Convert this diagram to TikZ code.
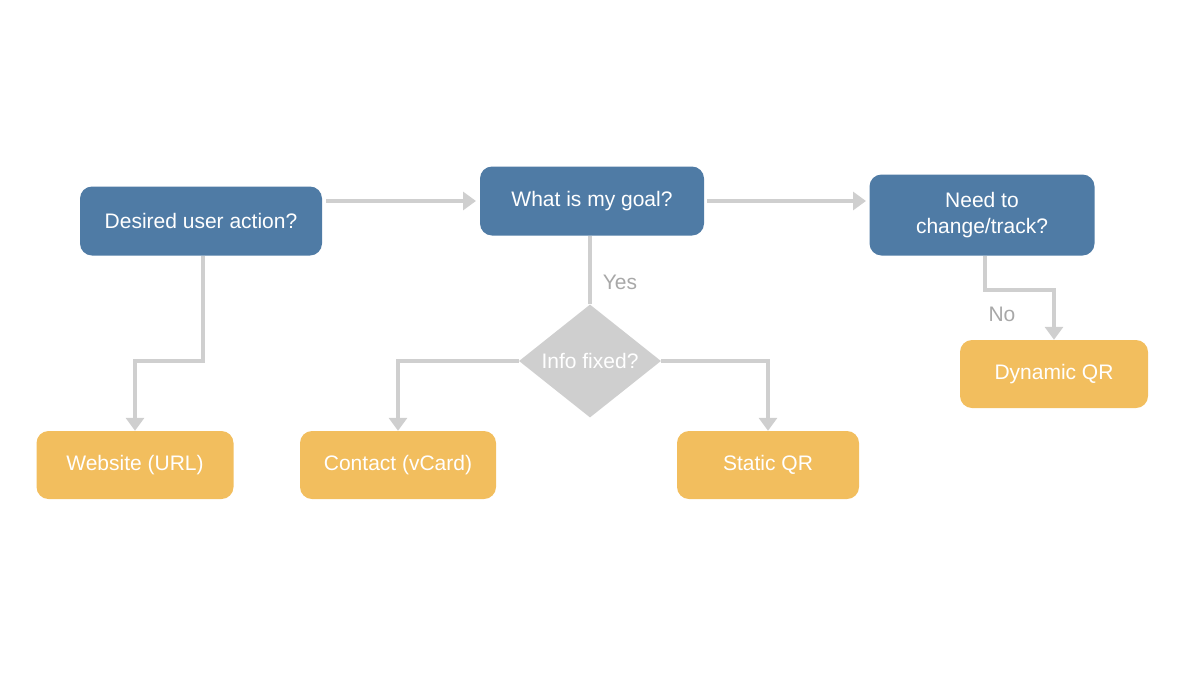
\documentclass[tikz,border=0pt]{standalone}
\usepackage{fontspec}
\setmainfont{Liberation Sans}
\usetikzlibrary{shapes.geometric,arrows.meta}
\definecolor{bluebox}{HTML}{4F7BA5}
\definecolor{orbox}{HTML}{F2BE5E}
\definecolor{conn}{HTML}{CFCFCF}
\definecolor{lab}{HTML}{A8A8A8}
\begin{document}
\begin{tikzpicture}[x=1pt,y=-1pt,
  q/.style={rounded corners=12pt,fill=bluebox,text=white,align=center,font=\fontsize{21}{26}\selectfont,inner sep=0pt},
  a/.style={rounded corners=12pt,fill=orbox,text=white,align=center,font=\fontsize{21}{26}\selectfont,inner sep=0pt},
  c/.style={draw=conn,line width=4pt,-{Triangle[length=13pt,width=18pt]}},
  cl/.style={text=lab,font=\fontsize{21}{26}\selectfont}]
\useasboundingbox (0,0) rectangle (1200,686);
\node[q,minimum width=242pt,minimum height=69pt] (desired) at (201,221) {Desired user action?};
\node[q,minimum width=224pt,minimum height=69pt] (goal) at (592,201) {What is my goal?};
\node[q,minimum width=225pt,minimum height=81pt] (need) at (982,215) {Need to\\change/track?};
\node[diamond,fill=conn,minimum width=142pt,minimum height=113pt,inner sep=0pt,text=white,font=\fontsize{21}{26}\selectfont] (info) at (590,361) {Info fixed?};
\node[a,minimum width=197pt,minimum height=68pt] (web) at (135,465) {Website (URL)};
\node[a,minimum width=196pt,minimum height=68pt] (contact) at (398,465) {Contact (vCard)};
\node[a,minimum width=182pt,minimum height=68pt] (static) at (768,465) {Static QR};
\node[a,minimum width=188pt,minimum height=68pt] (dyn) at (1054,374) {Dynamic QR};
\coordinate (d1) at (203,361);
\coordinate (n1) at (985,290);
\coordinate (g1) at (326,201);
\coordinate (g2) at (476,201);
\coordinate (g3) at (707,201);
\coordinate (g4) at (866,201);
\draw[c] (g1) -- (g2);
\draw[c] (g3) -- (g4);
\draw[c] (desired.south -| d1) -- (d1) -| (web.north);
\draw[draw=conn,line width=4pt] (goal.south -| info) -- (info.north);
\draw[c] (info.west) -| (contact.north);
\draw[c] (info.east) -| (static.north);
\draw[c] (need.south -| n1) -- (n1) -| (dyn.north);
\node[cl] (yes) at (620,282) {Yes};
\node[cl] (no) at (1002,314) {No};
\end{tikzpicture}
\end{document}
